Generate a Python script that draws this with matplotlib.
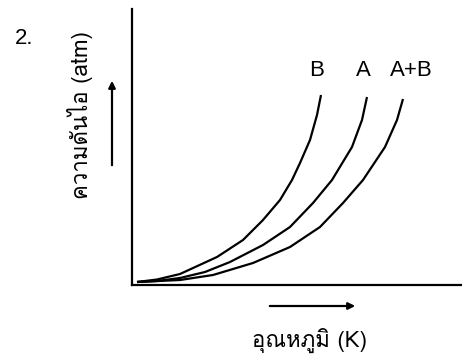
import matplotlib
matplotlib.use("Agg")
import matplotlib.pyplot as plt
from matplotlib import font_manager
from matplotlib.patches import FancyArrowPatch
from matplotlib.ft2font import FT2Font

# curve values (axes units: x = 0..330, y = 0..276)
b_x = [5, 25, 48, 85, 111, 131, 148, 160, 168, 178, 185, 189]
b_y = [3, 5.5, 11, 28, 45, 65, 85, 105, 122, 145, 170, 190]
a_x = [5, 25, 48, 73, 98, 131, 158, 181, 200, 220, 230, 235]
a_y = [3, 4, 7, 13, 23, 40, 58, 82, 105, 138, 165, 188]
ab_x = [5, 48, 81, 121, 158, 188, 211, 231, 253, 265, 271]
ab_y = [3, 5, 10, 22, 38, 58, 82, 105, 138, 165, 186]
curve_names = ["B", "A", "A+B"]

ylabel = "ความดันไอ (atm)"
xlabel = "อุณหภูมิ (K)"


# look for an installed font that has Thai glyphs, looped faces first
def find_thai_font():
    found = []
    for f in font_manager.fontManager.ttflist:
        try:
            cmap = FT2Font(f.fname).get_charmap()
        except Exception:
            continue
        if ord("ค") in cmap and ord("ู") in cmap:
            found.append(f.name)
    prefs = ["Loma", "Garuda", "Tahoma", "Noto Sans Thai Looped", "Norasi", "Tlwg"]

    def rank(n):
        for i, p in enumerate(prefs):
            if p in n:
                return (i, n)
        return (len(prefs) + (0 if "Sans" in n else 1), n)

    found.sort(key=rank)
    return found[0] if found else "DejaVu Sans"


thai = find_thai_font()
plt.rcParams["font.family"] = ["Liberation Sans", "DejaVu Sans"]

fig = plt.figure(figsize=(4.62, 3.58), dpi=100)
ax = fig.add_axes([132 / 462, 73 / 358, 330 / 462, 276 / 358])

for xs, ys in [(b_x, b_y), (a_x, a_y), (ab_x, ab_y)]:
    ax.plot(xs, ys, color="black", lw=1.6, solid_capstyle="butt",
            solid_joinstyle="round")

ax.set_xlim(0, 330)
ax.set_ylim(0, 276)
ax.set_xticks([])
ax.set_yticks([])
ax.spines["top"].set_visible(False)
ax.spines["right"].set_visible(False)
ax.spines["left"].set_linewidth(1.6)
ax.spines["bottom"].set_linewidth(1.6)

# curve labels above the curve ends
offsets = {"B": -4, "A": -4, "A+B": 8}
for name, xs in zip(curve_names, [b_x, a_x, ab_x]):
    ax.text(xs[-1] + offsets[name], 215, name,
            ha="center", va="center", fontsize=16)

fig.text(24 / 462, 1 - 39 / 358, "2.", ha="center", va="center", fontsize=16)
fig.text(80 / 462, 1 - 115 / 358, ylabel, rotation=90, ha="center", va="center",
         fontsize=16, family=[thai, "Liberation Sans", "DejaVu Sans"])
fig.text(309 / 462, 1 - 340 / 358, xlabel, ha="center", va="center",
         fontsize=16, family=[thai, "Liberation Sans", "DejaVu Sans"])

# arrows
fig.add_artist(FancyArrowPatch(
    (112 / 462, 1 - 168 / 358), (112 / 462, 1 - 78 / 358), transform=fig.transFigure,
    arrowstyle="-|>", mutation_scale=10, color="black", lw=1.6))
fig.add_artist(FancyArrowPatch(
    (267 / 462, 1 - 306 / 358), (358 / 462, 1 - 306 / 358), transform=fig.transFigure,
    arrowstyle="-|>", mutation_scale=10, color="black", lw=1.6))

fig.savefig("out.png", dpi=100)
